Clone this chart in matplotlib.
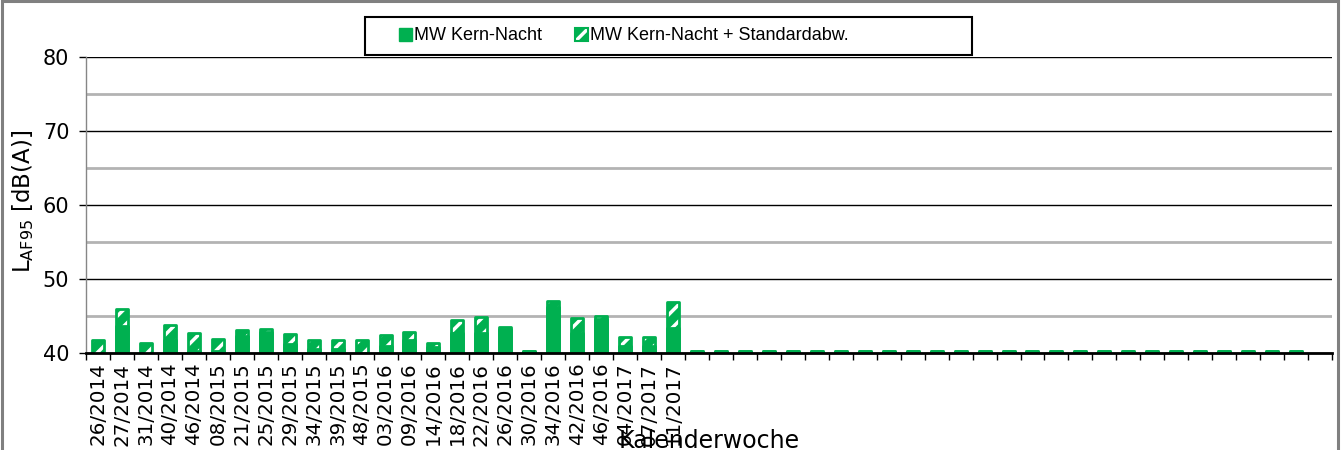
import numpy as np
import matplotlib
matplotlib.use("Agg")
import matplotlib.pyplot as plt
from matplotlib.patches import Patch, Rectangle

# ---------------- data ----------------
weeks_data = ["26/2014", "27/2014", "31/2014", "40/2014", "46/2014", "08/2015",
              "21/2015", "25/2015", "29/2015", "34/2015", "39/2015", "48/2015",
              "03/2016", "09/2016", "14/2016", "18/2016", "22/2016", "26/2016",
              "30/2016", "34/2016", "42/2016", "46/2016", "04/2017", "07/2017",
              "11/2017"]
empty_weeks = [""] * 27
weeks = weeks_data + empty_weeks

mw_kern_nacht = [39.5, 43.7, 39.5, 41.8, 40.3, 40.3, 42.3, 42.9, 41.2, 40.5,
                 40.5, 40.0, 41.0, 41.8, 40.8, 42.7, 42.7, 43.3, 40.3, 46.2,
                 42.7, 44.6, 41.0, 41.0, 43.4] + [40.3] * 26 + [np.nan]
mw_plus_std = [41.7, 46.0, 41.3, 43.8, 42.7, 41.9, 43.1, 43.2, 42.6, 41.7,
               41.7, 41.7, 42.4, 42.9, 41.3, 44.4, 44.9, 43.5, 40.3, 47.0,
               44.7, 45.0, 42.1, 42.1, 46.9] + [40.3] * 26 + [np.nan]

y_ticks = [40, 50, 60, 70, 80]
y_minor = [45, 55, 65, 75]

GREEN = "#00B050"
W, H = 1341, 450

plt.rcParams["hatch.color"] = "white"
plt.rcParams["hatch.linewidth"] = 2.5
plt.rcParams["font.family"] = ["DejaVu Sans"]

fig = plt.figure(figsize=(W / 100, H / 100), dpi=100)
ax = fig.add_axes([86 / W, 1 - 353 / H, (1332 - 86) / W, (353 - 57) / H])

x = np.arange(len(weeks))
bw = 0.5

# hatched series (MW + Standardabw.)
ax.bar(x, mw_plus_std, width=bw, color=GREEN, hatch="//", zorder=3)
ax.bar(x, mw_plus_std, width=bw, fill=False, edgecolor=GREEN, linewidth=2,
       joinstyle="round", zorder=3)
# solid series (MW)
ax.bar(x, mw_kern_nacht, width=bw, color=GREEN, edgecolor=GREEN, linewidth=2,
       joinstyle="round", zorder=4)

ax.set_xlim(-0.5, len(weeks) - 0.5)
ax.set_ylim(40, 80)

# axes styling
for s in ["top", "right"]:
    ax.spines[s].set_visible(False)
ax.spines["left"].set_color("#868686")
ax.spines["left"].set_linewidth(1)
ax.spines["bottom"].set_color("black")
ax.spines["bottom"].set_linewidth(2)
ax.spines["bottom"].set_zorder(5)

ax.set_yticks(y_ticks)
ax.set_yticks(y_minor, minor=True)
ax.tick_params(axis="y", which="major", direction="out", length=5, width=1,
               pad=7, labelsize=15, color="black")
ax.tick_params(axis="y", which="minor", length=0)
ax.yaxis.grid(True, which="major", color="black", linewidth=1, zorder=0)
ax.yaxis.grid(True, which="minor", color="#b3b3b3", linewidth=2, zorder=0)
ax.set_axisbelow(True)

ax.set_xticks(x)
ax.set_xticklabels(weeks, rotation=90, fontsize=14.3, va="top", ha="center")
ax.set_xticks(np.arange(-0.5, len(weeks), 1.0), minor=True)
ax.tick_params(axis="x", which="major", length=0, pad=7)
ax.tick_params(axis="x", which="minor", direction="out", length=5, width=1,
               color="black")

# axis titles
fig.text(23 / W, 1 - 201 / H, r"L$_{\mathregular{AF95}}$ [dB(A)]", rotation=90,
         ha="center", va="center", fontsize=16.5)
fig.text(709 / W, 1 - 448 / H, "Kalenderwoche", ha="center", va="baseline",
         fontsize=17)

# legend
h1 = Patch(facecolor=GREEN, edgecolor=GREEN, linewidth=1)
h2a = Patch(facecolor=GREEN, hatch="//")
h2b = Patch(fill=False, edgecolor=GREEN, linewidth=1.5)
leg = fig.legend([h1, (h2a, h2b)], ["MW Kern-Nacht", "MW Kern-Nacht + Standardabw."],
                 loc="center left", bbox_to_anchor=(390 / W, 1 - 36 / H),
                 ncol=2, frameon=False, borderpad=0, handlelength=0.7,
                 handleheight=0.7, handletextpad=0.15, columnspacing=1.8,
                 prop={"family": "Liberation Sans", "size": 13})
fig.patches.append(Rectangle((365 / W, 1 - 55 / H), 607 / W, 38 / H,
                             transform=fig.transFigure, fill=False,
                             edgecolor="black", linewidth=1.5))

# outer chart border
fig.patches.append(Rectangle((1.5 / W, -0.05), (1337.5 - 1.5) / W, 1.05 - 1 / H,
                             transform=fig.transFigure, fill=False,
                             edgecolor="#808080", linewidth=2.2))

fig.savefig("out.png", dpi=100)
